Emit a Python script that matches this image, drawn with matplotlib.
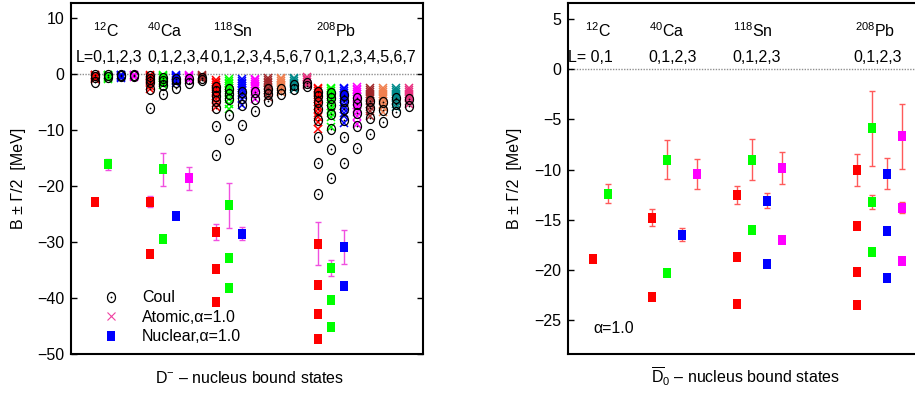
import matplotlib
matplotlib.use("Agg")
import matplotlib.pyplot as plt
import numpy as np
from matplotlib.lines import Line2D

plt.rcParams["font.family"] = ["Liberation Sans", "DejaVu Sans"]
plt.rcParams["mathtext.fontset"] = "custom"
plt.rcParams["mathtext.rm"] = "Liberation Sans"
plt.rcParams["mathtext.it"] = "Liberation Sans:italic"
plt.rcParams["mathtext.sf"] = "Liberation Sans"
plt.rcParams["font.size"] = 11.5

nuclei = ["$^{12}$C", "$^{40}$Ca", "$^{118}$Sn", "$^{208}$Pb"]
dm_L_labels = ["L=0,1,2,3", "0,1,2,3,4", "0,1,2,3,4,5,6,7", "0,1,2,3,4,5,6,7"]
d0_L_labels = ["L= 0,1", "0,1,2,3", "0,1,2,3", "0,1,2,3"]
L_colors = ["#ff0000", "#00ff00", "#0000ff", "#ff00ff",
            "#a0282a", "#f08050", "#008a8a", "#e8307f"]

# D- nucleus: pure Coulomb levels, one list per L (MeV)
coul_C = [[-0.1, -0.5, -1.3], [-0.1, -0.5], [-0.1, -0.4], [-0.1, -0.3]]
coul_Ca = [[-0.4, -0.8, -1.4, -2.7, -6.0], [-0.6, -1.2, -2.0, -3.6],
           [-0.8, -1.4, -2.4], [-0.9, -1.5], [-0.6, -1.0]]
coul_Sn = [[-2.2, -3.0, -3.9, -4.8, -6.0, -9.3, -14.5],
           [-2.7, -3.5, -4.5, -7.2, -11.6],
           [-3.2, -4.2, -5.5, -9.0], [-3.2, -4.4, -6.6], [-2.6, -3.6, -4.8],
           [-2.6, -3.6], [-2.0, -2.7], [-1.5, -2.1]]
coul_Pb = [[-3.1, -3.9, -4.9, -6.2, -8.1, -11.3, -15.9, -21.4],
           [-3.4, -4.3, -5.5, -7.1, -9.7, -13.4, -18.6],
           [-3.8, -4.8, -6.2, -8.2, -11.2, -15.9],
           [-4.2, -5.4, -7.0, -9.2, -13.2], [-4.7, -6.0, -7.8, -10.7],
           [-5.0, -6.4, -8.5], [-4.2, -5.3, -6.8], [-4.5, -5.6]]

# D- nucleus: atomic levels (Coulomb + strong, alpha = 1.0)
atomic_C = [[-0.05, -0.15, -0.3, -0.45, -0.65, -0.9],
            [-0.05, -0.15, -0.3, -0.45, -0.65, -0.85],
            [-0.05, -0.15, -0.3, -0.45, -0.6], [-0.05, -0.15, -0.3, -0.55]]
atomic_Ca = [[-0.1, -0.25, -0.45, -0.7, -0.95, -1.25, -1.6, -2.1, -2.6],
             [-0.1, -0.25, -0.45, -0.7, -0.95, -1.25, -1.6, -2.0],
             [-0.1, -0.25, -0.45, -0.7, -0.95, -1.2, -1.5],
             [-0.1, -0.25, -0.45, -0.7, -1.0], [-0.1, -0.25, -0.45, -0.65, -0.9]]
atomic_Sn = [[-1.0, -1.3, -1.6, -1.9, -2.2, -2.6, -3.0, -3.4, -3.9, -4.5, -5.2, -5.9],
             [-0.9, -1.2, -1.5, -1.8, -2.1, -2.5, -2.9, -3.3, -3.8, -4.4, -5.3, -6.3],
             [-0.9, -1.2, -1.5, -1.8, -2.1, -2.5, -2.9, -3.3, -3.8, -4.5, -5.5],
             [-0.8, -1.1, -1.4, -1.7, -2.1, -2.5, -3.0, -3.6, -4.5],
             [-0.7, -1.0, -1.3, -1.6, -2.0, -2.4, -2.9, -3.4, -4.0],
             [-0.6, -0.9, -1.2, -1.5, -1.9, -2.3, -2.7, -3.1],
             [-0.6, -0.9, -1.2, -1.5, -1.8, -2.2, -2.6],
             [-0.5, -0.8, -1.1, -1.4, -1.7, -2.0]]
atomic_Pb = [[-2.4, -2.7, -3.0, -3.3, -3.7, -4.1, -4.5, -5.0, -5.6, -6.2, -6.9, -7.6, -8.5, -9.7],
             [-2.4, -2.7, -3.0, -3.3, -3.7, -4.1, -4.5, -5.0, -5.6, -6.2, -6.9, -7.6, -9.4],
             [-2.4, -2.7, -3.0, -3.3, -3.7, -4.1, -4.5, -5.0, -5.6, -6.2, -6.9, -7.5, -8.7],
             [-2.3, -2.6, -2.9, -3.2, -3.6, -4.0, -4.4, -4.9, -5.5, -6.1, -6.8, -7.5, -8.9],
             [-2.5, -2.8, -3.1, -3.5, -3.9, -4.3, -4.8, -5.3, -5.9, -6.6, -7.5],
             [-2.5, -2.8, -3.1, -3.5, -3.9, -4.3, -4.8, -5.3, -5.9, -6.7],
             [-2.5, -2.8, -3.1, -3.5, -3.9, -4.3, -4.8, -5.3, -5.8],
             [-2.5, -2.8, -3.1, -3.5, -3.9, -4.3, -4.8, -5.3]]

# D- nucleus: nuclear levels, (B, Gamma/2) per L
dm_nuc_C = [[(-22.8, 0.0)], [(-16.1, 1.0)]]
dm_nuc_Ca = [[(-22.8, 1.0), (-32.1, 0.0)], [(-17.0, 2.9), (-29.5, 0.0)],
             [(-25.4, 0.3)], [(-18.6, 2.0)]]
dm_nuc_Sn = [[(-28.2, 1.5), (-34.8, 0.0), (-40.7, 0.0)],
             [(-23.4, 4.05), (-32.9, 0.0), (-38.2, 0.0)], [(-28.5, 1.2)]]
dm_nuc_Pb = [[(-30.3, 3.85), (-37.7, 0.0), (-42.8, 0.0), (-47.3, 0.0)],
             [(-34.6, 1.4), (-40.4, 0.0), (-45.2, 0.0)],
             [(-30.9, 3.1), (-37.8, 0.0)]]

# anti-D0 nucleus: nuclear levels, (B, Gamma/2) per L
d0_nuc_C = [[(-18.9, 0.0)], [(-12.4, 0.95)]]
d0_nuc_Ca = [[(-14.8, 0.85), (-22.7, 0.0)], [(-9.0, 1.95), (-20.3, 0.0)],
             [(-16.5, 0.65)], [(-10.4, 1.5)]]
d0_nuc_Sn = [[(-12.5, 0.9), (-18.7, 0.0), (-23.4, 0.0)],
             [(-9.0, 2.05), (-16.0, 0.0)],
             [(-13.1, 0.75), (-19.4, 0.0)], [(-9.8, 1.6), (-17.0, 0.0)]]
d0_nuc_Pb = [[(-10.0, 1.6), (-15.6, 0.0), (-20.2, 0.0), (-23.5, 0.0)],
             [(-5.9, 3.7), (-13.2, 0.7), (-18.2, 0.0)],
             [(-10.4, 1.55), (-16.1, 0.0), (-20.8, 0.0)],
             [(-6.7, 3.2), (-13.8, 0.55), (-19.1, 0.0)]]

t = np.linspace(0, 2 * np.pi, 61)
ELLIPSE = np.column_stack([0.8 * np.cos(t), np.sin(t)])
RECT = [(-0.7, -1), (0.7, -1), (0.7, 1), (-0.7, 1), (-0.7, -1)]


def draw_nuclear(ax, x0, levels, err_color):
    for L, states in enumerate(levels):
        for b, hw in states:
            if hw > 0:
                ax.errorbar(x0 + L, b, yerr=hw, fmt="none", ecolor=err_color,
                            elinewidth=1.0, capsize=2, capthick=1.0, zorder=3)
            ax.plot(x0 + L, b, ls="none", marker=RECT, ms=7.5, mew=0,
                    color=L_colors[L], zorder=4)


def draw_atomic(ax, x0, atomic, coul):
    for L, levels in enumerate(atomic):
        ax.plot(np.full(len(levels), x0 + L), levels, ls="none", marker="x",
                ms=6, mew=1.1, color=L_colors[L], zorder=2)
    for L, levels in enumerate(coul):
        xs = np.full(len(levels), x0 + L)
        ax.plot(xs, levels, ls="none", marker=ELLIPSE, ms=7.2, mew=0.9,
                mfc="none", mec="black", zorder=3)
        ax.plot(xs, levels, ls="none", marker="o", ms=1.3, mew=0,
                color="black", zorder=3)


def style_axes(ax, ylim, yticks, right_ticks=True):
    ax.set_ylim(*ylim)
    ax.set_yticks(yticks)
    ax.set_xticks([])
    ax.axhline(0, color="#909090", ls=(0, (1, 1)), lw=1.0, zorder=1)
    ax.tick_params(axis="y", direction="in", length=4, width=1,
                   left=True, right=right_ticks, labelsize=11.5, pad=5)
    for s in ax.spines.values():
        s.set_linewidth(1.5)


def main() -> None:
    fig = plt.figure(figsize=(9.15, 3.96), dpi=100)

    # left: D- nucleus
    ax1 = fig.add_axes([0.0776, 0.106, 0.3847, 0.886])
    dm_starts = [0.0, 4.23, 9.31, 17.15]
    for x0, atomic, coul in zip(dm_starts, [atomic_C, atomic_Ca, atomic_Sn, atomic_Pb],
                                [coul_C, coul_Ca, coul_Sn, coul_Pb]):
        draw_atomic(ax1, x0, atomic, coul)
    for x0, nuc in zip(dm_starts, [dm_nuc_C, dm_nuc_Ca, dm_nuc_Sn, dm_nuc_Pb]):
        draw_nuclear(ax1, x0, nuc, "#f050e0")
    ax1.set_xlim(-1.846, 25.23)
    style_axes(ax1, (-50, 12.7), np.arange(-50, 11, 10))
    for xn, xl, name, lab in zip([0.85, 5.38, 10.6, 18.54], [1.08, 6.38, 12.77, 20.77],
                                 nuclei, dm_L_labels):
        ax1.text(xn, 6.6, name, ha="center", va="baseline", fontsize=11.5)
        ax1.text(xl, 2.14, lab, ha="center", va="baseline", fontsize=11.5)
    ax1.set_ylabel("B ± Γ/2  [MeV]", fontsize=11.5)
    ax1.yaxis.set_label_coords(-0.128, 0.5)
    ax1.text(0.506, -0.083, r"D$^{-}$ – nucleus bound states", transform=ax1.transAxes,
             ha="center", va="baseline", fontsize=11.5)

    handles = [
        (Line2D([], [], ls="none", marker=ELLIPSE, ms=7.2, mew=0.9, mfc="none", mec="black"),
         Line2D([], [], ls="none", marker="o", ms=1.3, mew=0, color="black")),
        Line2D([], [], ls="none", marker="x", ms=6, mew=0.8, color="#f040a0"),
        Line2D([], [], ls="none", marker=RECT, ms=7.5, mew=0, color="#0000ff"),
    ]
    ax1.legend(handles, ["Coul", "Atomic,α=1.0", "Nuclear,α=1.0"],
               loc="upper left", bbox_to_anchor=(0.073, 0.20), frameon=False,
               handlelength=1.0, handletextpad=1.44, labelspacing=0.28,
               fontsize=11.5, borderaxespad=0)

    # right: anti-D0 nucleus (right edge runs off the figure)
    ax2 = fig.add_axes([0.6208, 0.106, 0.3847, 0.886])
    d0_starts = [0.0, 3.93, 9.6, 17.6]
    for x0, nuc in zip(d0_starts, [d0_nuc_C, d0_nuc_Ca, d0_nuc_Sn, d0_nuc_Pb]):
        draw_nuclear(ax2, x0, nuc, "#ff5a5a")
    ax2.set_xlim(-1.667, 21.8)
    style_axes(ax2, (-28.4, 6.6), np.arange(-25, 6, 5), right_ticks=False)
    for xn, xl, name, lab in zip([0.33, 4.93, 10.67, 18.8], [-0.2, 5.33, 10.93, 19.0],
                                 nuclei, d0_L_labels):
        ax2.text(xn, 3.2, name, ha="center", va="baseline", fontsize=11.5)
        ax2.text(xl, 0.7, lab, ha="center", va="baseline", fontsize=11.5)
    ax2.text(0.0, -26.3, "α=1.0", ha="left", va="baseline", fontsize=11.5)
    ax2.set_ylabel("B ± Γ/2  [MeV]", fontsize=11.5)
    ax2.yaxis.set_label_coords(-0.131, 0.5)
    ax2.text(0.503, -0.083, r"$\overline{\mathrm{D}}_0$ – nucleus bound states",
             transform=ax2.transAxes, ha="center", va="baseline", fontsize=11.5)

    fig.savefig("out.png", dpi=100)


if __name__ == "__main__":
    main()
